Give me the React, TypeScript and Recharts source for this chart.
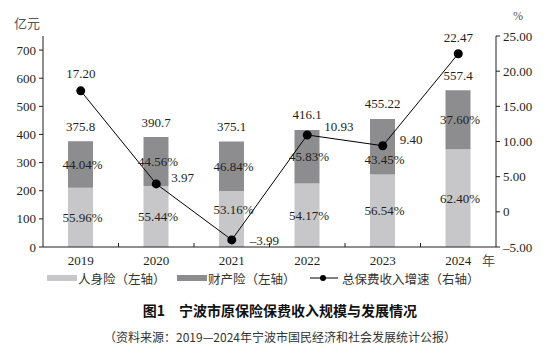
import React from 'react';
import {
  ComposedChart,
  Bar,
  Line,
  XAxis,
  YAxis,
  LabelList,
} from 'recharts';

const years = ['2019', '2020', '2021', '2022', '2023', '2024'];
const totals = [375.8, 390.7, 375.1, 416.1, 455.22, 557.4];
const personal = [210.3, 216.6, 199.4, 225.4, 257.4, 347.8];
const property = [165.5, 174.1, 175.7, 190.7, 197.8, 209.6];
const personalShare = ['55.96%', '55.44%', '53.16%', '54.17%', '56.54%', '62.40%'];
const propertyShare = ['44.04%', '44.56%', '46.84%', '45.83%', '43.45%', '37.60%'];
const growth = [17.2, 3.97, -3.99, 10.93, 9.4, 22.47];
const growthLabels = ['17.20', '3.97', '–3.99', '10.93', '9.40', '22.47'];
const leftTicks = [0, 100, 200, 300, 400, 500, 600, 700];
const rightTicks = [-5, 0, 5, 10, 15, 20, 25];

const data = years.map((year, i) => ({
  year,
  personal: personal[i],
  property: property[i],
  total: totals[i],
  growth: growth[i],
}));

const SERIF = '"Liberation Serif", "Noto Sans CJK SC", serif';
const CJK = '"Noto Sans CJK SC", sans-serif';
const TEXT = '#231f20';
const LIGHT = '#c7c7c9';
const DARK = '#8d8d8f';

// label placement tweaks, relative to the mark
const personalDy = [0, 0, -9, 0, 0, 0];
const propertyDy = [0, 0, 0, 0, 13, 0];
const growthOffsets: [number, number, string][] = [
  [0, -17, 'middle'],
  [15, -6, 'start'],
  [18, 1, 'start'],
  [17, -8, 'start'],
  [17, -6, 'start'],
  [0, -16, 'middle'],
];

const txt = { fontFamily: SERIF };

const shareLabel = (texts: string[], dys: number[]) => (props: any) => {
  const { x, y, width, height, index } = props;
  return (
    <text
      x={x + width / 2 + 2}
      y={y + height / 2 + dys[index]}
      textAnchor="middle"
      dominantBaseline="central"
      style={txt}
      fontSize={13}
      fill={TEXT}
    >
      {texts[index]}
    </text>
  );
};

const totalLabel = (props: any) => {
  const { x, y, width, index } = props;
  return (
    <text
      x={x + width / 2}
      y={y - 15}
      textAnchor="middle"
      dominantBaseline="central"
      style={txt}
      fontSize={13}
      fill={TEXT}
    >
      {totals[index]}
    </text>
  );
};

const growthLabel = (props: any) => {
  const { x, y, index } = props;
  const [dx, dy, anchor] = growthOffsets[index];
  return (
    <text
      x={x + dx}
      y={y + dy}
      textAnchor={anchor as any}
      dominantBaseline="central"
      style={txt}
      fontSize={13}
      fill={TEXT}
    >
      {growthLabels[index]}
    </text>
  );
};

const YearTick = (props: any) => {
  const { x, y, payload, index } = props;
  const half = 37.75;
  return (
    <g>
      <text
        x={x}
        y={y + 13}
        textAnchor="middle"
        dominantBaseline="central"
        style={txt}
        fontSize={13}
        fill={TEXT}
      >
        {payload.value}
      </text>
      {index < years.length - 1 && (
        <line x1={x + half} x2={x + half} y1={y} y2={y - 4} stroke={TEXT} />
      )}
    </g>
  );
};

const fmtRight = (v: number) => {
  if (v === 0) return '0';
  if (v < 0) return '–' + Math.abs(v).toFixed(2);
  return v.toFixed(2);
};

function LegendItem({
  kind,
  label,
  left,
}: {
  kind: 'light' | 'dark' | 'line';
  label: string;
  left: number;
}) {
  return (
    <div
      style={{
        position: 'absolute',
        left,
        top: 269,
        height: 18,
        display: 'flex',
        alignItems: 'center',
        fontSize: 12.5,
        fontFamily: CJK,
        color: '#333',
        whiteSpace: 'nowrap',
      }}
    >
      {kind === 'line' ? (
        <svg width={28} height={10} style={{ marginRight: 4 }}>
          <line x1={0} x2={28} y1={5} y2={5} stroke="#000" strokeWidth={1} />
          <circle cx={13} cy={5} r={3} fill="#000" />
        </svg>
      ) : (
        <span
          style={{
            display: 'inline-block',
            width: 30,
            height: 6,
            background: kind === 'light' ? LIGHT : DARK,
            marginRight: 1,
          }}
        />
      )}
      {label}
    </div>
  );
}

export default function App() {
  return (
    <div
      style={{
        position: 'absolute',
        left: 0,
        top: 0,
        width: 550,
        height: 360,
        background: '#fff',
        color: TEXT,
        fontFamily: SERIF,
      }}
    >
      <div style={{ position: 'absolute', left: 14, top: 13, fontSize: 13, fontFamily: CJK, color: '#555' }}>
        亿元
      </div>
      <div style={{ position: 'absolute', left: 513, top: 9, fontSize: 12, color: '#555' }}>
        %
      </div>
      <div style={{ position: 'absolute', left: 482, top: 250, fontSize: 13, fontFamily: CJK, color: '#555' }}>
        年
      </div>
      <ComposedChart
        width={550}
        height={270}
        data={data}
        margin={{ top: 36, right: 0, bottom: 3, left: 0 }}
      >
        <XAxis
          dataKey="year"
          xAxisId="x"
          height={20}
          tickSize={0}
          tickMargin={0}
          tickLine={false}
          axisLine={{ stroke: TEXT }}
          tick={<YearTick />}
          interval={0}
        />
        <YAxis
          yAxisId="left"
          orientation="left"
          width={43}
          domain={[0, 750]}
          ticks={leftTicks}
          tickSize={4}
          tickMargin={3}
          axisLine={{ stroke: TEXT }}
          tickLine={{ stroke: TEXT }}
          tick={{ fontFamily: SERIF, fontSize: 13, fill: TEXT, style: txt }}
          allowDataOverflow
        />
        <YAxis
          yAxisId="right"
          orientation="right"
          width={54}
          domain={[-5, 25]}
          ticks={rightTicks}
          tickFormatter={fmtRight}
          tickSize={4}
          tickMargin={3}
          axisLine={{ stroke: TEXT }}
          tickLine={{ stroke: TEXT }}
          tick={{ fontFamily: SERIF, fontSize: 13, fill: TEXT, style: txt }}
        />
        <Bar
          xAxisId="x"
          yAxisId="left"
          dataKey="personal"
          stackId="a"
          fill={LIGHT}
          barSize={25}
          isAnimationActive={false}
        >
          <LabelList dataKey="personal" content={shareLabel(personalShare, personalDy)} />
        </Bar>
        <Bar
          xAxisId="x"
          yAxisId="left"
          dataKey="property"
          stackId="a"
          fill={DARK}
          barSize={25}
          isAnimationActive={false}
        >
          <LabelList dataKey="property" content={shareLabel(propertyShare, propertyDy)} />
          <LabelList dataKey="total" content={totalLabel} />
        </Bar>
        <Line
          xAxisId="x"
          yAxisId="right"
          dataKey="growth"
          stroke="#000"
          strokeWidth={1}
          dot={{ r: 4.5, fill: '#000', stroke: '#000', strokeWidth: 0 }}
          activeDot={false}
          isAnimationActive={false}
        >
          <LabelList dataKey="growth" content={growthLabel} />
        </Line>
      </ComposedChart>
      <LegendItem kind="light" label="人身险（左轴）" left={47} />
      <LegendItem kind="dark" label="财产险（左轴）" left={177} />
      <LegendItem kind="line" label="总保费收入增速（右轴）" left={310} />
      <div
        style={{
          position: 'absolute',
          left: 0,
          width: 550,
          top: 300,
          textAlign: 'center',
          fontSize: 14,
          fontWeight: 'bold',
          fontFamily: CJK,
          color: '#111',
          paddingLeft: 10,
          boxSizing: 'border-box',
          whiteSpace: 'pre',
        }}
      >
        {'图1　宁波市原保险保费收入规模与发展情况'}
      </div>
      <div
        style={{
          position: 'absolute',
          left: 0,
          width: 550,
          top: 328,
          textAlign: 'center',
          fontSize: 12,
          fontFamily: CJK,
          color: '#333',
          paddingLeft: 10,
          boxSizing: 'border-box',
        }}
      >
        （资料来源：2019—2024年宁波市国民经济和社会发展统计公报）
      </div>
    </div>
  );
}
